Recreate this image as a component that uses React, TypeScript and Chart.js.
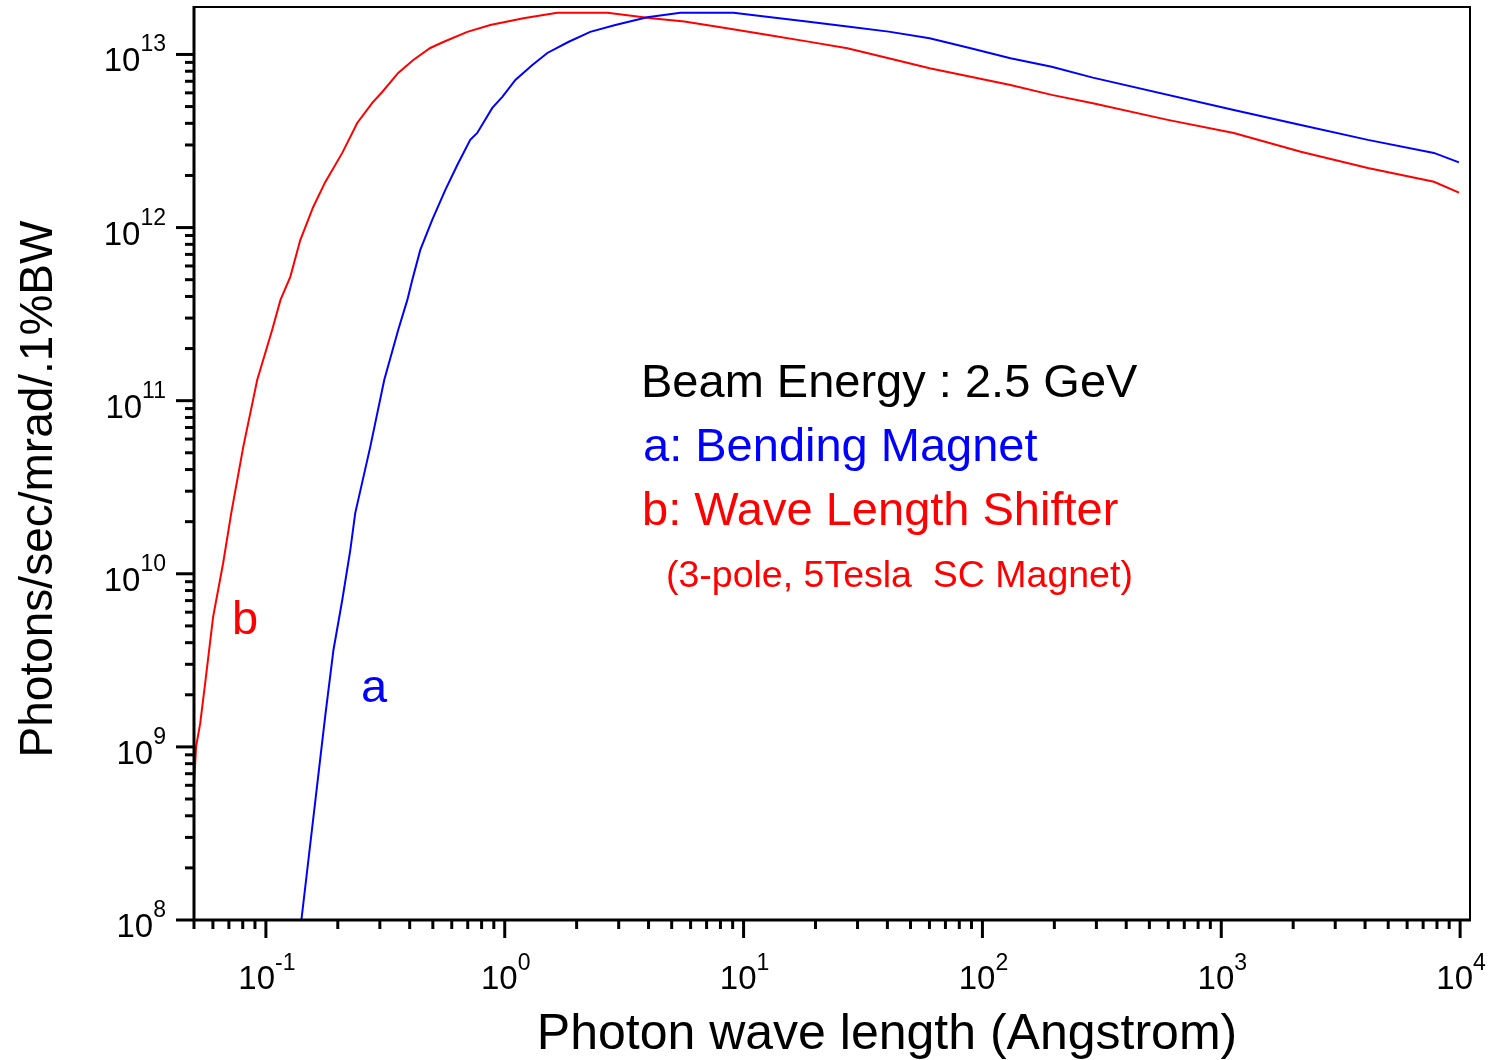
import React, { useEffect, useRef } from 'react';
import { Chart, registerables } from 'chart.js';

Chart.register(...registerables);

// a: Bending Magnet (blue)
const blueWavelength = [
  0.1408, 0.1774, 0.1918, 0.2088, 0.2256, 0.2366, 0.2735, 0.3131, 0.358, 0.391,
  0.41, 0.443, 0.497, 0.564, 0.633, 0.717, 0.767, 0.887, 0.977, 1.108,
  1.305, 1.508, 1.845, 2.28, 2.904, 3.95, 5.44, 9.07, 12.5, 18.4,
  27.2, 40.5, 60.1, 89.3, 131, 195, 290, 1128, 2153,
  4110, 7770, 9890,
];
const blueFlux = [
  1e8, 1.53e9, 3.63e9, 7.06e9, 1.37e10, 2.24e10, 5.41e10, 1.32e11, 2.56e11, 3.82e11,
  4.98e11, 7.43e11, 1.107e12, 1.65e12, 2.3e12, 3.21e12, 3.52e12, 4.91e12, 5.69e12, 7.13e12,
  8.69e12, 1.02e13, 1.18e13, 1.35e13, 1.48e13, 1.64e13, 1.74e13, 1.74e13, 1.65e13, 1.55e13,
  1.45e13, 1.355e13, 1.24e13, 1.087e13, 9.5e12, 8.5e12, 7.35e12, 4.78e12, 3.91e12,
  3.21e12, 2.7e12, 2.38e12,
];

// b: Wave Length Shifter (red)
const redWavelength = [
  0.05, 0.051, 0.0531, 0.0557, 0.0601, 0.0662, 0.0716, 0.0804, 0.092, 0.1062,
  0.1151, 0.1265, 0.1393, 0.1578, 0.1771, 0.2088, 0.2412, 0.2788, 0.3069, 0.358,
  0.414, 0.4875, 0.553, 0.697, 0.87, 1.197, 1.66, 2.69, 4.11, 5.65,
  8.39, 12.5, 18.4, 27.2, 40.5, 60.1, 89.3, 131, 195, 290,
  597, 1128, 2153, 4110, 7770, 9890,
];
const redFlux = [
  6.0e8, 1.0e9, 1.37e9, 2.34e9, 5.62e9, 1.15e10, 2.24e10, 5.41e10, 1.32e11, 2.56e11,
  3.82e11, 5.19e11, 8.47e11, 1.315e12, 1.83e12, 2.7e12, 4.02e12, 5.25e12, 6.07e12, 7.82e12,
  9.29e12, 1.09e13, 1.18e13, 1.35e13, 1.48e13, 1.62e13, 1.74e13, 1.74e13, 1.62e13, 1.55e13,
  1.42e13, 1.3e13, 1.19e13, 1.087e13, 9.5e12, 8.32e12, 7.44e12, 6.67e12, 5.84e12, 5.22e12,
  4.19e12, 3.52e12, 2.74e12, 2.21e12, 1.84e12, 1.59e12,
];

const xMajorTicks = [0.1, 1, 10, 100, 1000, 10000];
const xTickExponents = ['-1', '0', '1', '2', '3', '4'];
const yMajorTicks = [1e8, 1e9, 1e10, 1e11, 1e12, 1e13];
const yTickExponents = ['8', '9', '10', '11', '12', '13'];

const xAxisTitle = 'Photon wave length (Angstrom)';
const yAxisTitle = 'Photons/sec/mrad/.1%BW';
const infoLines = [
  'Beam Energy : 2.5 GeV',
  'a: Bending Magnet',
  'b: Wave Length Shifter',
  '(3-pole, 5Tesla  SC Magnet)',
];
const curveLabels = ['a', 'b'];

const FONT = '"Liberation Sans", Arial, Helvetica, sans-serif';
const BLUE = '#0000ff';
const RED = '#ff0000';

const framePlugin = {
  id: 'framePlugin',
  afterDraw(chart: any) {
    const { ctx, chartArea: a, scales } = chart;
    const xs = scales.x;
    const ys = scales.y;
    ctx.save();
    ctx.strokeStyle = '#000';
    ctx.lineCap = 'butt';

    // top and right frame (thinner)
    ctx.lineWidth = 2;
    ctx.beginPath();
    ctx.moveTo(a.left, a.top);
    ctx.lineTo(a.right, a.top);
    ctx.lineTo(a.right, a.bottom);
    ctx.stroke();

    // left and bottom axes (thicker)
    ctx.lineWidth = 3;
    ctx.beginPath();
    ctx.moveTo(a.left, a.top - 1);
    ctx.lineTo(a.left, a.bottom);
    ctx.lineTo(a.right + 1, a.bottom);
    ctx.stroke();

    // x ticks
    ctx.lineWidth = 3;
    for (let d = -2; d <= 4; d++) {
      for (let k = 1; k <= 9; k++) {
        const v = k * Math.pow(10, d);
        if (v < xs.min * (1 - 1e-9) || v > xs.max) continue;
        const px = xs.getPixelForValue(v);
        const len = k === 1 ? 18 : 9;
        ctx.beginPath();
        ctx.moveTo(px, a.bottom);
        ctx.lineTo(px, a.bottom + len);
        ctx.stroke();
      }
    }
    // y ticks
    for (let d = 8; d <= 13; d++) {
      for (let k = 1; k <= 9; k++) {
        const v = k * Math.pow(10, d);
        if (v < ys.min * (1 - 1e-9) || v > ys.max) continue;
        const py = ys.getPixelForValue(v);
        const len = k === 1 ? 18 : 9;
        ctx.beginPath();
        ctx.moveTo(a.left - len, py);
        ctx.lineTo(a.left, py);
        ctx.stroke();
      }
    }

    ctx.fillStyle = '#000';
    ctx.textBaseline = 'alphabetic';
    const baseFont = `33px ${FONT}`;
    const expFont = `23px ${FONT}`;

    // y tick labels
    yMajorTicks.forEach((v, i) => {
      const py = ys.getPixelForValue(v);
      const right = a.left - 28;
      ctx.font = expFont;
      ctx.textAlign = 'right';
      const ew = ctx.measureText(yTickExponents[i]).width;
      ctx.fillText(yTickExponents[i], right, py - 3);
      ctx.font = baseFont;
      ctx.fillText('10', right - ew, py + 17);
    });

    // x tick labels
    xMajorTicks.forEach((v, i) => {
      const px = xs.getPixelForValue(v);
      ctx.font = baseFont;
      const bw = ctx.measureText('10').width;
      ctx.font = expFont;
      const ew = ctx.measureText(xTickExponents[i]).width;
      const start = px - (bw + ew) / 2 + 1;
      ctx.textAlign = 'left';
      ctx.font = baseFont;
      ctx.fillText('10', start, a.bottom + 69);
      ctx.font = expFont;
      ctx.fillText(xTickExponents[i], start + bw, a.bottom + 50);
    });

    // axis titles
    ctx.font = `50px ${FONT}`;
    ctx.textAlign = 'center';
    ctx.fillText(xAxisTitle, (a.left + a.right) / 2 + 55, a.bottom + 129);

    ctx.save();
    ctx.translate(52, 489);
    ctx.rotate(-Math.PI / 2);
    ctx.font = `46px ${FONT}`;
    ctx.textAlign = 'center';
    ctx.fillText(yAxisTitle, 0, 0);
    ctx.restore();

    // info text block
    ctx.textAlign = 'left';
    ctx.font = `47px ${FONT}`;
    ctx.fillStyle = '#000';
    ctx.fillText(infoLines[0], 641, 397);
    ctx.fillStyle = BLUE;
    ctx.fillText(infoLines[1], 643, 461);
    ctx.fillStyle = RED;
    ctx.fillText(infoLines[2], 642, 525);
    ctx.font = `37.5px ${FONT}`;
    ctx.fillText(infoLines[3], 666, 587);

    // curve labels
    ctx.font = `47px ${FONT}`;
    ctx.fillStyle = BLUE;
    ctx.fillText(curveLabels[0], 361, 702);
    ctx.fillStyle = RED;
    ctx.fillText(curveLabels[1], 232, 634);

    ctx.restore();
  },
};

export default function App() {
  const canvasRef = useRef<HTMLCanvasElement | null>(null);

  useEffect(() => {
    const canvas = canvasRef.current;
    if (!canvas) return;
    const chart = new Chart(canvas, {
      type: 'line',
      data: {
        datasets: [
          {
            label: 'a: Bending Magnet',
            data: blueWavelength.map((x, i) => ({ x, y: blueFlux[i] })),
            borderColor: BLUE,
            backgroundColor: BLUE,
            borderWidth: 2,
            pointRadius: 0,
            tension: 0,
            fill: false,
          },
          {
            label: 'b: Wave Length Shifter',
            data: redWavelength.map((x, i) => ({ x, y: redFlux[i] })),
            borderColor: RED,
            backgroundColor: RED,
            borderWidth: 2,
            pointRadius: 0,
            tension: 0,
            fill: false,
          },
        ],
      },
      options: {
        responsive: false,
        animation: false,
        devicePixelRatio: 1,
        layout: { padding: { top: 7, right: 21, left: 0, bottom: 0 } },
        plugins: {
          legend: { display: false },
          tooltip: { enabled: false },
        },
        scales: {
          x: {
            type: 'logarithmic',
            min: 0.05,
            max: 11000,
            ticks: { display: false },
            grid: { display: false },
            border: { display: false },
            afterFit: (s: any) => {
              s.height = 140;
            },
          },
          y: {
            type: 'logarithmic',
            min: 1e8,
            max: 1.88e13,
            ticks: { display: false },
            grid: { display: false },
            border: { display: false },
            afterFit: (s: any) => {
              s.width = 194;
            },
          },
        },
      } as any,
      plugins: [framePlugin],
    });
    return () => chart.destroy();
  }, []);

  return (
    <div style={{ position: 'absolute', left: 0, top: 0, width: 1491, height: 1060, background: '#fff' }}>
      <canvas ref={canvasRef} width={1491} height={1060} style={{ display: 'block' }} />
    </div>
  );
}
